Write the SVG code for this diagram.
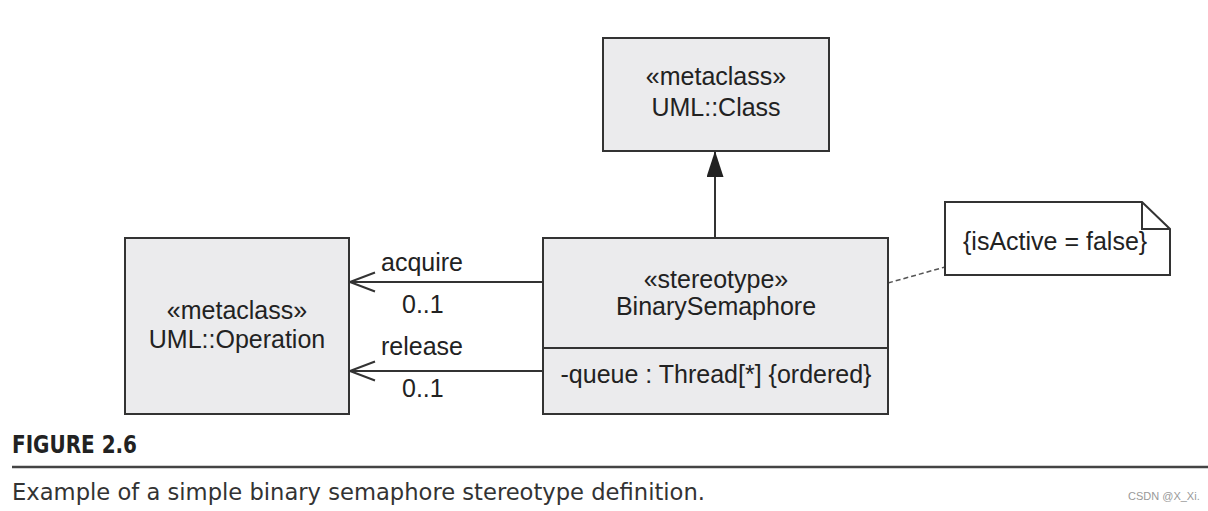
<svg xmlns="http://www.w3.org/2000/svg" width="1208" height="511" viewBox="0 0 1208 511">
<style>
.box{fill:#ebebed;stroke:#333;stroke-width:2}
.t{font-family:"Liberation Sans",Arial,sans-serif;font-size:25px;fill:#222;text-anchor:middle}
.lbl{font-family:"Liberation Sans",Arial,sans-serif;font-size:25px;fill:#222}
.ln{stroke:#333;stroke-width:2;fill:none}
</style>
<defs>
<marker id="tri" markerWidth="26" markerHeight="17" refX="26" refY="8.5" orient="auto" markerUnits="userSpaceOnUse" viewBox="0 0 26 17">
<path d="M0,0 L26,8.5 L0,17 Z" fill="#222"/>
</marker>
<marker id="open" markerWidth="28" markerHeight="22" refX="27" refY="11" orient="auto" markerUnits="userSpaceOnUse" viewBox="0 0 28 22">
<path d="M2,1.5 L27,11 L2,20.5" fill="none" stroke="#333" stroke-width="2"/>
</marker>
</defs>
<rect width="1208" height="511" fill="#fff"/>
<g id="connectors">
<line class="ln" x1="715" y1="238" x2="715" y2="151" marker-end="url(#tri)"/>
<line class="ln" x1="543" y1="282" x2="350" y2="282" marker-end="url(#open)"/>
<line class="ln" x1="543" y1="371" x2="350" y2="371" marker-end="url(#open)"/>
<line x1="888" y1="283" x2="945" y2="267" stroke="#555" stroke-width="1.5" stroke-dasharray="5,3"/>
<text class="lbl" x="381" y="271">acquire</text>
<text class="lbl" x="402" y="313">0..1</text>
<text class="lbl" x="381" y="355">release</text>
<text class="lbl" x="402" y="397">0..1</text>
</g>
<g id="uml-class">
<rect class="box" x="603" y="38" width="226" height="113"/>
<text class="t" x="716" y="85">«metaclass»</text>
<text class="t" x="716" y="116">UML::Class</text>
</g>
<g id="uml-operation">
<rect class="box" x="125" y="238" width="224" height="176"/>
<text class="t" x="237" y="319">«metaclass»</text>
<text class="t" x="237" y="348">UML::Operation</text>
</g>
<g id="binary-semaphore">
<rect class="box" x="543" y="238" width="345" height="176"/>
<line class="ln" x1="543" y1="348" x2="888" y2="348"/>
<text class="t" x="716" y="288">«stereotype»</text>
<text class="t" x="716" y="315">BinarySemaphore</text>
<text class="t" x="716" y="383">-queue : Thread[*] {ordered}</text>
</g>
<g id="note">
<path d="M945,202 L1142,202 L1170,229 L1170,275 L945,275 Z" fill="#fff" stroke="#333" stroke-width="2"/>
<path d="M1142,202 L1142,229 L1170,229" fill="none" stroke="#333" stroke-width="2"/>
<text class="lbl" x="963" y="250">{isActive = false}</text>
</g>
<g id="caption">
<text x="12" y="453" font-family="'DejaVu Sans Condensed','DejaVu Sans',sans-serif" font-weight="bold" font-size="25" fill="#222" textLength="125" lengthAdjust="spacingAndGlyphs">FIGURE 2.6</text>
<line x1="12" y1="467" x2="1208" y2="467" stroke="#444" stroke-width="2.5"/>
<text x="12" y="500" font-family="'DejaVu Sans Condensed','DejaVu Sans',sans-serif" font-size="23" fill="#333" textLength="693" lengthAdjust="spacingAndGlyphs">Example of a simple binary semaphore stereotype definition.</text>
<text x="1128" y="500" font-family="'Liberation Sans',Arial,sans-serif" font-size="11" fill="#999">CSDN @X_Xi.</text>
</g>
</svg>
